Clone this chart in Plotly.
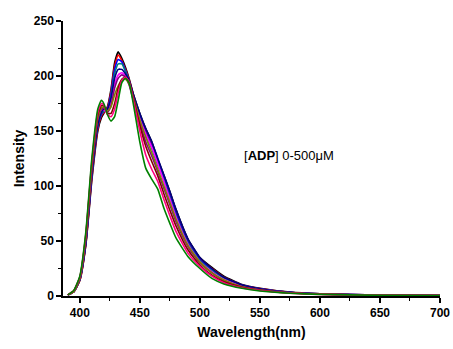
import plotly.graph_objects as go

wavelength = [390, 395, 400, 405, 410, 415, 418, 420, 423, 426, 429, 432, 435, 438, 441, 445,
              450, 455, 460, 465, 470, 475, 480, 490, 500, 510, 520, 535, 550, 575, 600, 650, 700]

s_black = [1, 4, 14, 46, 105, 150, 162, 166, 172, 188, 212, 222, 216, 208, 198, 182,
           166, 152, 140, 124, 110, 95, 79, 52, 35, 26, 18, 10.5, 7, 3.5, 2, 0.8, 0.3]
s_red = [1, 4, 14, 47, 107, 152, 164, 167, 171, 186, 209, 219, 214, 206, 197, 181,
         164, 149, 137, 122, 108, 93, 77, 50, 34, 25, 17, 10, 6.8, 3.4, 1.9, 0.8, 0.3]
s_blue = [1, 4, 15, 48, 109, 154, 165, 168, 170, 184, 206, 215, 213, 205, 196, 180,
          163, 148, 136, 121, 107, 91, 75, 49, 33, 24, 16.5, 10, 6.6, 3.3, 1.9, 0.8, 0.3]
s_teal = [1, 4, 15, 49, 111, 156, 166, 168, 169, 181, 202, 211, 211, 204, 195, 179,
          161, 146, 134, 119, 105, 89, 73, 48, 32, 23, 16, 9.5, 6.3, 3.2, 1.8, 0.7, 0.3]
s_magenta = [1, 4, 16, 51, 114, 159, 168, 169, 167, 176, 193, 201, 203, 200, 193, 178,
             161, 147, 135, 120, 104, 88, 72, 47, 31, 22, 15, 9, 6, 3, 1.7, 0.7, 0.3]
s_navy = [1, 4, 15, 48, 110, 156, 167, 170, 170, 180, 198, 206, 206, 202, 196, 182,
          166, 152, 140, 125, 110, 95, 79, 52, 35, 25, 17, 10, 6.5, 3.3, 1.9, 0.8, 0.3]
s_purple = [1, 4, 16, 52, 115, 161, 170, 171, 167, 173, 189, 198, 201, 199, 192, 176,
            157, 140, 127, 113, 98, 83, 68, 45, 30, 21, 14, 8.5, 5.6, 2.9, 1.7, 0.7, 0.3]
s_olive = [1, 4, 16, 53, 117, 162, 171, 172, 168, 172, 183, 191, 196, 197, 193, 179,
           160, 144, 130, 115, 100, 85, 70, 46, 31, 21, 14.5, 8.5, 5.5, 2.9, 1.7, 0.7, 0.3]
s_wine = [1, 5, 17, 55, 120, 165, 173, 173, 166, 166, 175, 189, 197, 199, 195, 178,
          155, 136, 122, 109, 93, 78, 64, 42, 28, 19, 13, 8, 5.2, 2.7, 1.6, 0.7, 0.3]
s_pink = [1, 5, 17, 56, 122, 167, 175, 174, 165, 163, 170, 185, 196, 199, 195, 176,
          150, 128, 115, 104, 88, 73, 59, 39, 27, 18, 12, 7.5, 5, 2.6, 1.5, 0.6, 0.3]
s_green = [1, 5, 18, 58, 125, 170, 178, 175, 165, 159, 163, 178, 194, 198, 194, 172,
           140, 116, 106, 97, 80, 66, 53, 36, 25, 16, 11, 7, 4.5, 2.5, 1.5, 0.6, 0.3]

series = [s_black, s_red, s_blue, s_teal, s_magenta, s_navy, s_purple, s_olive, s_wine, s_pink, s_green]
colors = ["#000000", "#ff0000", "#0000ff", "#008080", "#ff00ff", "#000080", "#800080",
          "#808000", "#800000", "#ff0080", "#008000"]

fig = go.Figure()
for ys, c in zip(series, colors):
    fig.add_trace(go.Scatter(x=wavelength, y=ys, mode="lines",
                             line=dict(color=c, width=1.6, shape="spline", smoothing=0.5),
                             showlegend=False))

fig.add_annotation(x=535, y=128, xref="x", yref="y", text="[<b>ADP</b>] 0-500μM",
                   showarrow=False, xanchor="left", yanchor="middle",
                   font=dict(family="Liberation Sans, Arial", size=13, color="#000"))

axis_common = dict(showline=True, linecolor="black", linewidth=1.5, mirror=False,
                   ticks="outside", ticklen=5, tickwidth=1.5, tickcolor="black",
                   showgrid=False, zeroline=False, automargin=False,
                   tickfont=dict(family="Liberation Sans, Arial", size=12, color="#000", weight="bold"),
                   minor=dict(dtick=25, ticks="outside", ticklen=3, tickwidth=1.2, tickcolor="black"))

fig.update_xaxes(range=[386, 700], tick0=400, dtick=50, **axis_common,
                 title=dict(text="<b>Wavelength(nm)</b>", standoff=8,
                            font=dict(family="Liberation Sans, Arial", size=14, color="#000")))
fig.update_yaxes(range=[0, 250], tick0=0, dtick=50, **axis_common,
                 title=dict(text="<b>Intensity</b>", standoff=6,
                            font=dict(family="Liberation Sans, Arial", size=14, color="#000")))
fig.update_xaxes(minor=dict(tick0=400))
fig.update_yaxes(minor=dict(tick0=0))

fig.update_layout(width=453, height=349, margin=dict(l=63, r=13, t=21, b=53),
                  plot_bgcolor="white", paper_bgcolor="white")

fig.write_html("out.html", config={"displayModeBar": False},
               post_script="document.body.style.margin='0';document.body.style.padding='0';")
